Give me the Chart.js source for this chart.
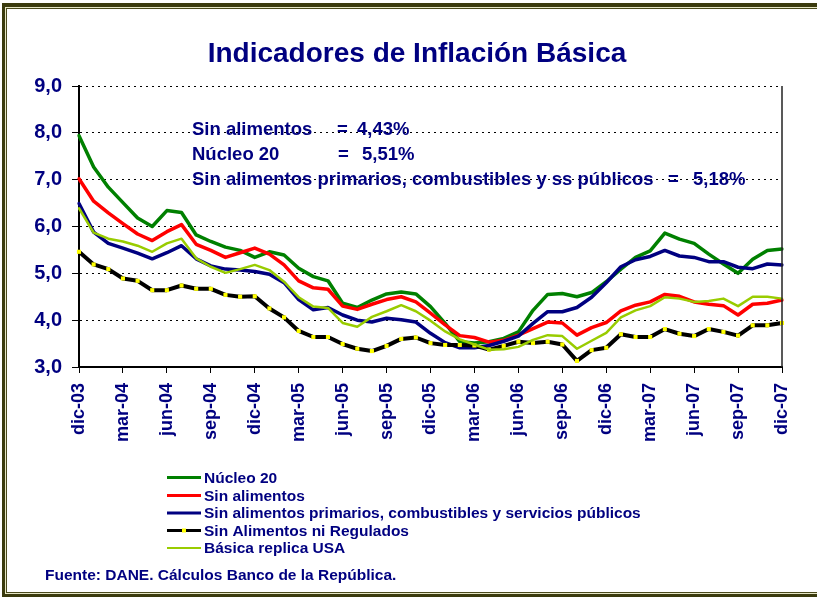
<!DOCTYPE html>
<html><head><meta charset="utf-8">
<script src="https://cdn.jsdelivr.net/npm/chart.js@4.4.1/dist/chart.umd.min.js"></script>
<style>html,body{margin:0;padding:0;background:#fff;}canvas{display:block;}</style>
</head><body>
<canvas id="c" width="817" height="597"></canvas>
<script>
const months = [
  'dic-03','ene-04','feb-04','mar-04','abr-04','may-04','jun-04','jul-04','ago-04','sep-04','oct-04','nov-04',
  'dic-04','ene-05','feb-05','mar-05','abr-05','may-05','jun-05','jul-05','ago-05','sep-05','oct-05','nov-05',
  'dic-05','ene-06','feb-06','mar-06','abr-06','may-06','jun-06','jul-06','ago-06','sep-06','oct-06','nov-06',
  'dic-06','ene-07','feb-07','mar-07','abr-07','may-07','jun-07','jul-07','ago-07','sep-07','oct-07','nov-07',
  'dic-07'
];
const shownTicks = ['dic-03','mar-04','jun-04','sep-04','dic-04','mar-05','jun-05','sep-05','dic-05',
  'mar-06','jun-06','sep-06','dic-06','mar-07','jun-07','sep-07','dic-07'];
const yTicks = [3, 4, 5, 6, 7, 8, 9];

const nucleo20 = [7.94,7.27,6.84,6.51,6.18,6.00,6.34,6.30,5.82,5.68,5.56,5.49,
  5.34,5.46,5.39,5.11,4.93,4.84,4.36,4.27,4.43,4.56,4.60,4.56,
  4.29,3.93,3.54,3.51,3.54,3.61,3.75,4.21,4.55,4.57,4.50,4.59,
  4.82,5.09,5.34,5.48,5.86,5.73,5.64,5.41,5.20,5.00,5.30,5.49,5.52];
const sinAlimentos = [7.02,6.54,6.29,6.06,5.84,5.70,5.89,6.04,5.62,5.49,5.34,5.44,
  5.54,5.41,5.18,4.84,4.69,4.66,4.30,4.23,4.34,4.44,4.50,4.39,
  4.15,3.90,3.67,3.63,3.53,3.57,3.68,3.82,3.96,3.94,3.68,3.84,
  3.95,4.20,4.32,4.39,4.55,4.51,4.39,4.34,4.31,4.11,4.34,4.36,4.43];
const sinPrimarios = [6.49,5.88,5.64,5.54,5.43,5.31,5.44,5.59,5.31,5.16,5.09,5.07,
  5.04,4.98,4.80,4.44,4.22,4.27,4.11,4.00,3.96,4.04,4.01,3.96,
  3.72,3.52,3.41,3.41,3.46,3.55,3.66,3.93,4.18,4.18,4.27,4.49,
  4.80,5.14,5.29,5.36,5.49,5.37,5.34,5.25,5.25,5.13,5.10,5.20,5.18];
const sinRegulados = [5.46,5.19,5.09,4.89,4.84,4.64,4.64,4.74,4.67,4.67,4.54,4.50,
  4.51,4.25,4.06,3.77,3.64,3.64,3.49,3.39,3.34,3.45,3.60,3.63,
  3.51,3.47,3.47,3.46,3.37,3.45,3.54,3.51,3.54,3.48,3.13,3.36,
  3.41,3.70,3.64,3.64,3.81,3.71,3.66,3.81,3.75,3.67,3.89,3.89,3.94];
const basicaUSA = [6.39,5.87,5.74,5.68,5.59,5.46,5.64,5.74,5.32,5.14,5.01,5.09,
  5.18,5.07,4.82,4.49,4.29,4.26,3.94,3.86,4.07,4.19,4.32,4.19,
  3.99,3.76,3.59,3.48,3.37,3.38,3.43,3.58,3.68,3.66,3.39,3.56,
  3.73,4.06,4.21,4.30,4.49,4.46,4.39,4.41,4.46,4.30,4.50,4.50,4.46];

const titleText = 'Indicadores de Inflación Básica';
const noteLabels = ['Sin alimentos', 'Núcleo 20', 'Sin alimentos primarios, combustibles y ss públicos'];
const noteValues = ['4,43%', '5,51%', '5,18%'];
const footerText = 'Fuente: DANE. Cálculos Banco de la República.';

const FONT = "'Liberation Sans', Arial, Helvetica, sans-serif";
const NAVY = '#000080';

const decor = {
  id: 'decor',
  beforeDraw(chart) {
    const ctx = chart.ctx;
    ctx.save();
    ctx.fillStyle = '#ffffff';
    ctx.fillRect(0, 0, chart.width, chart.height);
    // frame
    ctx.fillStyle = '#3b3b0e';
    ctx.fillRect(2, 3, 815, 4);
    ctx.fillRect(2, 3, 3, 594);
    ctx.fillRect(2, 594, 815, 3);
    ctx.fillStyle = '#e6e6c4';
    ctx.fillRect(5, 7, 812, 1);
    ctx.fillRect(5, 7, 1, 587);
    ctx.fillRect(5, 593, 812, 1);
    ctx.fillStyle = '#4a4a1c';
    ctx.fillRect(6, 8, 811, 1);
    ctx.fillRect(6, 8, 1, 585);
    ctx.fillRect(6, 592, 811, 1);
    ctx.restore();
  },
  afterDraw(chart) {
    const ctx = chart.ctx;
    const a = chart.chartArea;
    ctx.save();
    // right border of plot
    ctx.strokeStyle = '#222';
    ctx.lineWidth = 1.5;
    ctx.beginPath();
    ctx.moveTo(a.right, a.top);
    ctx.lineTo(a.right, a.bottom);
    ctx.stroke();

    ctx.fillStyle = NAVY;
    // title
    ctx.font = 'bold 28px ' + FONT;
    ctx.textAlign = 'center';
    ctx.textBaseline = 'alphabetic';
    ctx.fillText(titleText, 417, 62);

    // notes
    ctx.font = 'bold 18.5px ' + FONT;
    ctx.textAlign = 'left';
    const noteY = [135, 160, 185];
    const eqX = [337, 338, 668];
    const valX = [357, 362, 693];
    for (let i = 0; i < noteLabels.length; i++) {
      ctx.fillText(noteLabels[i], 192, noteY[i]);
      ctx.fillText('=', eqX[i], noteY[i]);
      ctx.fillText(noteValues[i], valX[i], noteY[i]);
    }

    // legend
    const legY = [477.5, 495.5, 513, 530.5, 548];
    ctx.font = 'bold 15.5px ' + FONT;
    ctx.textBaseline = 'middle';
    chart.data.datasets.forEach((ds, i) => {
      const y = legY[i];
      ctx.strokeStyle = ds.borderColor;
      ctx.lineWidth = ds.legendWidth;
      ctx.beginPath();
      ctx.moveTo(167, y);
      ctx.lineTo(201, y);
      ctx.stroke();
      if (ds.pointRadius > 0) {
        ctx.fillStyle = ds.pointBackgroundColor;
        ctx.fillRect(182, y - 2, 4, 4);
      }
      ctx.fillStyle = NAVY;
      ctx.fillText(ds.label, 204, y + 1);
    });

    // footer
    ctx.font = 'bold 15.5px ' + FONT;
    ctx.textBaseline = 'alphabetic';
    ctx.fillText(footerText, 45, 580);
    ctx.restore();
  }
};

new Chart(document.getElementById('c'), {
  type: 'line',
  data: {
    labels: months,
    datasets: [
      { label: 'Núcleo 20', data: nucleo20, borderColor: '#008000', borderWidth: 3.5, legendWidth: 3, pointRadius: 0, order: 5 },
      { label: 'Sin alimentos', data: sinAlimentos, borderColor: '#ff0000', borderWidth: 3.5, legendWidth: 3, pointRadius: 0, order: 4 },
      { label: 'Sin alimentos primarios, combustibles y servicios públicos', data: sinPrimarios, borderColor: '#000080', borderWidth: 3.5, legendWidth: 3, pointRadius: 0, order: 3 },
      { label: 'Sin Alimentos ni Regulados', data: sinRegulados, borderColor: '#000000', borderWidth: 4, legendWidth: 3,
        pointRadius: 2.9, pointStyle: 'rect', pointBackgroundColor: '#ffff00', pointBorderWidth: 0, pointBorderColor: '#ffff00', order: 2 },
      { label: 'Básica replica USA', data: basicaUSA, borderColor: '#99cc00', borderWidth: 2.5, legendWidth: 2, pointRadius: 0, order: 1 }
    ]
  },
  options: {
    responsive: false,
    devicePixelRatio: 1,
    animation: false,
    events: [],
    layout: { padding: { left: 0, top: 86, right: 35, bottom: 0 } },
    elements: { line: { tension: 0, borderCapStyle: 'round', borderJoinStyle: 'round' } },
    plugins: { legend: { display: false }, tooltip: { enabled: false }, title: { display: false } },
    scales: {
      x: {
        type: 'category',
        offset: false,
        afterFit(scale) { scale.height = 230; },
        grid: {
          display: true,
          drawOnChartArea: false,
          drawTicks: true,
          tickLength: 6,
          tickWidth: 1,
          tickColor: (c) => (shownTicks.includes(months[c.index]) ? '#000' : 'rgba(0,0,0,0)'),
          color: 'rgba(0,0,0,0)'
        },
        border: { display: true, color: '#000', width: 2 },
        ticks: {
          autoSkip: false,
          maxRotation: 90,
          minRotation: 90,
          padding: 10,
          color: NAVY,
          font: { family: FONT, size: 18, weight: 'bold' },
          callback: (v, i) => (shownTicks.includes(months[i]) ? months[i] : '')
        }
      },
      y: {
        min: yTicks[0],
        max: yTicks[yTicks.length - 1],
        afterFit(scale) { scale.width = 79; },
        afterBuildTicks(scale) { scale.ticks = yTicks.map(v => ({ value: v })); },
        grid: {
          display: true,
          color: '#000',
          lineWidth: 1,
          drawTicks: true,
          tickLength: 7,
          tickColor: '#000',
          tickBorderDash: [],
          borderDash: [2, 4]
        },
        border: { display: true, color: '#000', width: 2, dash: [2, 4] },
        ticks: {
          padding: 10,
          color: NAVY,
          font: { family: FONT, size: 20, weight: 'bold' },
          callback: (v) => Number(v).toFixed(1).replace('.', ',')
        }
      }
    }
  },
  plugins: [decor]
});
</script>
</body></html>
